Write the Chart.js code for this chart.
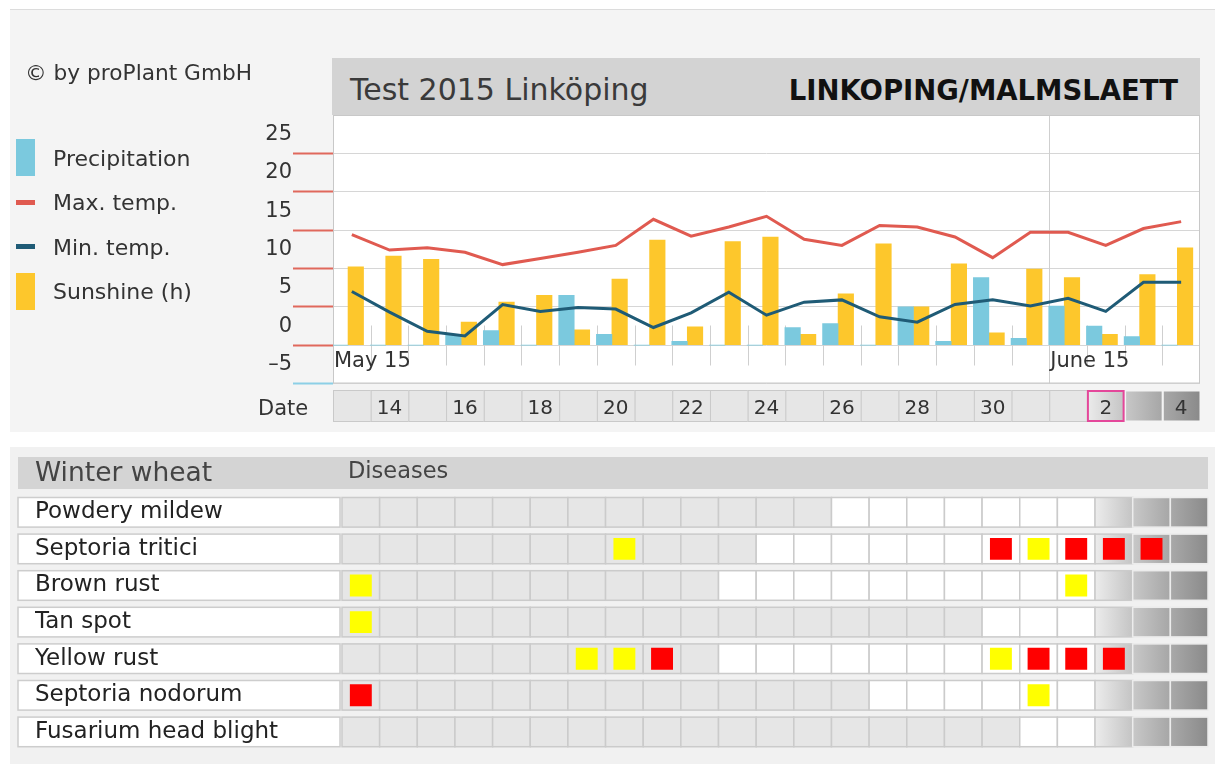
<!DOCTYPE html>
<html>
<head>
<meta charset="utf-8">
<title>proPlant - Test 2015 Linköping</title>
<script src="https://cdn.jsdelivr.net/npm/chart.js"></script>
<style>
  html, body { margin: 0; padding: 0; background: #fff; }
  body { width: 1215px; height: 764px; position: relative; overflow: hidden;
         font-family: 'DejaVu Sans', sans-serif; color: #333; }
  .section { position: absolute; left: 10px; width: 1205px; box-sizing: border-box; }
  #weather-bg { top: 9px; height: 423px; background: #f4f4f4; border-top: 1px solid #dcdcdc; }
  #disease-bg { top: 447px; height: 317px; background: #f1f1f1; }
  canvas { position: absolute; left: 0; }
  #weather { top: 0; }
  #diseases { top: 440px; }
  .copyright { position: absolute; left: 25px; top: 61px; font-size: 21.7px; line-height: 24px; }
  .item { position: absolute; left: 0; height: 0; width: 300px; }
  .item .sw { position: absolute; left: 16px; width: 19px; }
  .item.bar .sw { height: 37px; top: -18.5px; }
  .item.line .sw { height: 5px; top: -2.5px; }
  .item .tx { position: absolute; left: 53px; top: -11px; line-height: 24px; font-size: 22px; white-space: nowrap; }
  #title { position: absolute; left: 332px; top: 58px; width: 868px; height: 57px; background: #d3d3d3; }
  #title span { position: absolute; top: 15px; line-height: 34px; white-space: nowrap; }
  #title .l { left: 18px; font-size: 30px; color: #3a3a3a; }
  #title .r { right: 22px; font-size: 27.5px; font-weight: bold; color: #111; }
  .date-label { position: absolute; left: 258px; top: 396px; font-size: 21px; line-height: 24px; }
</style>
</head>
<body>
<div class="section" id="weather-bg"></div>
<div class="section" id="disease-bg"></div>
<canvas id="weather" width="1215" height="440"></canvas>
<canvas id="diseases" width="1215" height="324"></canvas>
<div class="copyright">© by proPlant GmbH</div>
<div id="legend"></div>
<div id="title"><span class="l">Test 2015 Linköping</span><span class="r">LINKOPING/MALMSLAETT</span></div>
<div class="date-label">Date</div>
<script>
// days shown in both panels
const dates = [
  '2015-05-13', '2015-05-14', '2015-05-15', '2015-05-16', '2015-05-17', '2015-05-18',
  '2015-05-19', '2015-05-20', '2015-05-21', '2015-05-22', '2015-05-23', '2015-05-24',
  '2015-05-25', '2015-05-26', '2015-05-27', '2015-05-28', '2015-05-29', '2015-05-30',
  '2015-05-31', '2015-06-01', '2015-06-02', '2015-06-03', '2015-06-04'
];
const today = '2015-06-02';
const monthNames = { '05': 'May', '06': 'June' };

// weather
const precipitation = [0, 0, 0, 1.4, 1.9, 0, 6.5, 1.4, 0, 0.5, 0, 0, 2.3, 2.8, 0, 5.0, 0.5, 8.8, 0.9, 5.1, 2.5, 1.1, 0];
const maxTemp = [14.4, 12.4, 12.7, 12.1, 10.5, 11.3, 12.1, 13.0, 16.4, 14.2, 15.4, 16.8, 13.8, 13.0, 15.6, 15.4, 14.1, 11.4, 14.7, 14.7, 13.0, 15.2, 16.1];
const minTemp = [7.0, 4.3, 1.8, 1.2, 5.3, 4.4, 4.9, 4.7, 2.3, 4.2, 6.9, 3.9, 5.6, 5.9, 3.7, 3.0, 5.3, 5.9, 5.1, 6.1, 4.4, 8.2, 8.2];
const sunshine = [10.2, 11.6, 11.2, 3.0, 5.6, 6.5, 2.0, 8.6, 13.7, 2.4, 13.5, 14.1, 1.4, 6.7, 13.2, 5.0, 10.6, 1.6, 9.9, 8.8, 1.4, 9.2, 12.7];

// disease risk: 0 = none, 1 = moderate (yellow), 2 = high (red)
const crop = 'Winter wheat';
const diseases = ['Powdery mildew', 'Septoria tritici', 'Brown rust', 'Tan spot', 'Yellow rust', 'Septoria nodorum', 'Fusarium head blight'];
const powderyMildew   = [0,0,0,0,0,0, 0,0,0,0,0,0, 0,0,0,0,0,0, 0,0,0,0,0];
const septoriaTritici = [0,0,0,0,0,0, 0,1,0,0,0,0, 0,0,0,0,0,2, 1,2,2,2,0];
const brownRust       = [1,0,0,0,0,0, 0,0,0,0,0,0, 0,0,0,0,0,0, 0,1,0,0,0];
const tanSpot         = [1,0,0,0,0,0, 0,0,0,0,0,0, 0,0,0,0,0,0, 0,0,0,0,0];
const yellowRust      = [0,0,0,0,0,0, 1,1,2,0,0,0, 0,0,0,0,0,1, 2,2,2,0,0];
const septoriaNodorum = [2,0,0,0,0,0, 0,0,0,0,0,0, 0,0,0,0,0,0, 1,0,0,0,0];
const fusarium        = [0,0,0,0,0,0, 0,0,0,0,0,0, 0,0,0,0,0,0, 0,0,0,0,0];
const riskRows = [powderyMildew, septoriaTritici, brownRust, tanSpot, yellowRust, septoriaNodorum, fusarium];
// first day each disease model is running (white cells)
const activeFrom = ['2015-05-26', '2015-05-24', '2015-05-23', '2015-05-30', '2015-05-23', '2015-05-27', '2015-05-31'];

Chart.defaults.font.family = "'DejaVu Sans', sans-serif";
Chart.defaults.font.size = 21;
Chart.defaults.color = '#333';

const FONT = "'DejaVu Sans', sans-serif";
const dayOf = d => Number(d.slice(8));
// the rain/sun bar pair starts at the left edge of each day cell;
// this is where the pair ends, in days from that edge
const barPairEnd = 0.81;

// gradient for forecast days (today and later)
function forecastShade(ctx, left, w, k) {
  const stops = [['#ececec', '#c4c4c4'], ['#c8c8c8', '#a6a6a6'], ['#a9a9a9', '#8a8a8a']][Math.min(k, 2)];
  const g = ctx.createLinearGradient(left, 0, left + w, 0);
  g.addColorStop(0, stops[0]);
  g.addColorStop(1, stops[1]);
  return g;
}

const weatherDecor = {
  id: 'weatherDecor',
  beforeDraw(chart) {
    const { ctx, chartArea: a, scales: { x } } = chart;
    const cw = (a.right - a.left) / dates.length;
    const todayIdx = dates.indexOf(today);
    const rowTop = a.bottom + 6.5, rowH = 32;
    ctx.save();
    ctx.fillStyle = '#fff';
    ctx.fillRect(a.left, a.top, a.right - a.left, a.bottom - a.top);

    // date row cells
    dates.forEach((d, i) => {
      const left = x.getPixelForValue(i) - cw / 2;
      const k = i - todayIdx;
      ctx.fillStyle = k >= 0 ? forecastShade(ctx, left, cw, k) : '#e6e6e6';
      ctx.fillRect(left, rowTop, cw, rowH);
      ctx.strokeStyle = k > 0 ? '#f4f4f4' : '#c9c9c9';
      ctx.lineWidth = k > 0 ? 2 : 1;
      ctx.strokeRect(left + 0.5, rowTop + 0.5, cw, rowH - 1);
    });
    const tl = x.getPixelForValue(todayIdx) - cw / 2;
    ctx.strokeStyle = '#e4479a';
    ctx.lineWidth = 2;
    ctx.strokeRect(tl + 1, rowTop + 1, cw - 2, rowH - 2);
    ctx.restore();
  },
  beforeDatasetsDraw(chart) {
    const { ctx, chartArea: a, scales: { x } } = chart;
    const cw = (a.right - a.left) / dates.length;
    ctx.save();
    ctx.strokeStyle = '#cfcfcf';
    ctx.lineWidth = 1;
    dates.forEach((d, i) => {
      if (i === 0) return;
      const px = Math.round(x.getPixelForValue(i) - cw / 2) + 0.5;
      const monthStart = dayOf(d) === 1;
      ctx.beginPath();
      ctx.moveTo(px, monthStart ? a.top : a.bottom - 58);
      ctx.lineTo(px, monthStart ? a.bottom : a.bottom - 18);
      ctx.stroke();
    });

    // month labels
    ctx.fillStyle = '#333';
    ctx.font = '21px ' + FONT;
    ctx.textBaseline = 'middle';
    dates.forEach((d, i) => {
      if (i === 0 || dayOf(d) === 1) {
        const label = monthNames[d.slice(5, 7)] + ' ' + d.slice(2, 4);
        ctx.fillText(label, x.getPixelForValue(i) - cw / 2 + 1, a.bottom - 22);
      }
    });

    ctx.strokeStyle = '#c8c8c8';
    ctx.strokeRect(a.left + 0.5, a.top + 0.5, a.right - a.left - 1, a.bottom - a.top - 1);
    ctx.restore();
  }
};

const asPoints = arr => arr.map((v, i) => ({ x: i, y: v }));

const weatherChart = new Chart(document.getElementById('weather'), {
  type: 'bar',
  data: {
    labels: dates,
    datasets: [
      { label: 'Precipitation', data: asPoints(precipitation), xAxisID: 'xb', backgroundColor: '#7bc9de',
        order: 1, barThickness: 15.5, borderWidth: 0 },
      { type: 'line', label: 'Max. temp.', data: maxTemp, borderColor: '#e05a50', backgroundColor: '#e05a50',
        borderWidth: 3, pointRadius: 0, tension: 0, order: 0 },
      { type: 'line', label: 'Min. temp.', data: minTemp, borderColor: '#1f5b76', backgroundColor: '#1f5b76',
        borderWidth: 3, pointRadius: 0, tension: 0, order: 0 },
      { label: 'Sunshine (h)', data: asPoints(sunshine), xAxisID: 'xb', backgroundColor: '#fdc72c',
        order: 1, barThickness: 15.5, borderWidth: 0 }
    ]
  },
  options: {
    responsive: false,
    animation: false,
    events: [],
    layout: { autoPadding: false, padding: { left: 253, right: 15, top: 115, bottom: 16.5 } },
    plugins: { legend: { display: false }, tooltip: { enabled: false } },
    scales: {
      x: {
        offset: true,
        grid: { display: false, drawTicks: false },
        border: { display: false },
        ticks: {
          autoSkip: false, maxRotation: 0, padding: 13,
          font: { size: 20 }, color: '#333',
          callback: (v, i) => dayOf(dates[i]) % 2 === 0 ? String(dayOf(dates[i])) : ''
        },
        afterFit: s => { s.height = 40; }
      },
      xb: {
        type: 'linear', display: false, offset: false, bounds: 'data',
        grid: { offset: false },
        min: -barPairEnd, max: dates.length - barPairEnd
      },
      y: {
        min: -5, max: 30,
        border: { display: false },
        grid: {
          color: '#d6d6d6', lineWidth: 1, tickLength: 40, tickWidth: 2,
          tickColor: c => c.tick.value === -5 ? '#8ccfe6' : (c.tick.value === 30 ? 'rgba(0,0,0,0)' : '#e0685c')
        },
        ticks: {
          stepSize: 5, padding: 1, labelOffset: -19, color: '#333',
          callback: v => v === 30 ? '' : (v < 0 ? '\u2013' + Math.abs(v) : String(v))
        },
        afterFit: s => { s.width = 80; }
      }
    }
  },
  plugins: [weatherDecor]
});

// legend built from the datasets
const legend = document.getElementById('legend');
weatherChart.data.datasets.forEach((ds, i) => {
  const item = document.createElement('div');
  item.className = 'item ' + (ds.type === 'line' ? 'line' : 'bar');
  item.style.top = (157.5 + i * 44.5) + 'px';
  const sw = document.createElement('span');
  sw.className = 'sw';
  sw.style.background = ds.backgroundColor;
  const tx = document.createElement('span');
  tx.className = 'tx';
  tx.textContent = ds.label;
  item.append(sw, tx);
  legend.appendChild(item);
});

// disease panel
const diseaseDecor = {
  id: 'diseaseDecor',
  beforeDraw(chart) {
    const { ctx, chartArea: a, scales: { x, y } } = chart;
    const cw = (a.right - a.left) / dates.length;
    const rh = (a.bottom - a.top) / diseases.length;
    const boxH = rh - 7;
    const todayIdx = dates.indexOf(today);
    ctx.save();

    ctx.fillStyle = '#d4d4d4';
    ctx.fillRect(18, a.top - 37, a.right - 18, 32);
    ctx.fillStyle = '#444';
    ctx.textBaseline = 'middle';
    ctx.font = '26.5px ' + FONT;
    ctx.fillText(crop, 35, a.top - 20);
    ctx.font = '22.5px ' + FONT;
    ctx.fillText('Diseases', a.left + 6, a.top - 22);

    diseases.forEach((name, r) => {
      const top = y.getPixelForValue(r) - boxH / 2;
      ctx.fillStyle = '#fff';
      ctx.fillRect(18, top, a.left - 20, boxH);
      ctx.strokeStyle = '#cdcdcd';
      ctx.lineWidth = 1.5;
      ctx.strokeRect(18, top, a.left - 20, boxH);

      const start = dates.indexOf(activeFrom[r]);
      dates.forEach((d, c) => {
        const left = x.getPixelForValue(c) - cw / 2;
        const k = c - todayIdx;
        if (k >= 0) ctx.fillStyle = forecastShade(ctx, left, cw, k);
        else ctx.fillStyle = c >= start ? '#ffffff' : '#e6e6e6';
        ctx.fillRect(left, top, cw, boxH);
        ctx.strokeStyle = k > 0 ? '#ececec' : '#cbcbcb';
        ctx.lineWidth = 1.5;
        ctx.strokeRect(left, top, cw, boxH);
      });
    });
    ctx.restore();
  }
};

const riskPoints = level => riskRows.flatMap((row, r) =>
  row.map((v, c) => v === level ? { x: dates[c], y: diseases[r] } : null).filter(p => p));

new Chart(document.getElementById('diseases'), {
  type: 'scatter',
  data: {
    datasets: [
      { label: 'Moderate risk', data: riskPoints(1), backgroundColor: '#ffff00',
        pointStyle: 'rect', pointRadius: 15.5, borderWidth: 0 },
      { label: 'High risk', data: riskPoints(2), backgroundColor: '#ff0000',
        pointStyle: 'rect', pointRadius: 15.5, borderWidth: 0 }
    ]
  },
  options: {
    responsive: false,
    animation: false,
    events: [],
    layout: { autoPadding: false, padding: { left: 35, right: 7, top: 54, bottom: 8 } },
    plugins: { legend: { display: false }, tooltip: { enabled: false } },
    scales: {
      x: { type: 'category', labels: dates, offset: true, display: false },
      y: {
        type: 'category', labels: diseases, offset: true,
        grid: { display: false, drawTicks: false },
        border: { display: false },
        ticks: { crossAlign: 'far', padding: 0, color: '#222', font: { size: 23 } },
        afterFit: s => { s.width = 307; }
      }
    }
  },
  plugins: [diseaseDecor]
});
</script>
</body>
</html>
